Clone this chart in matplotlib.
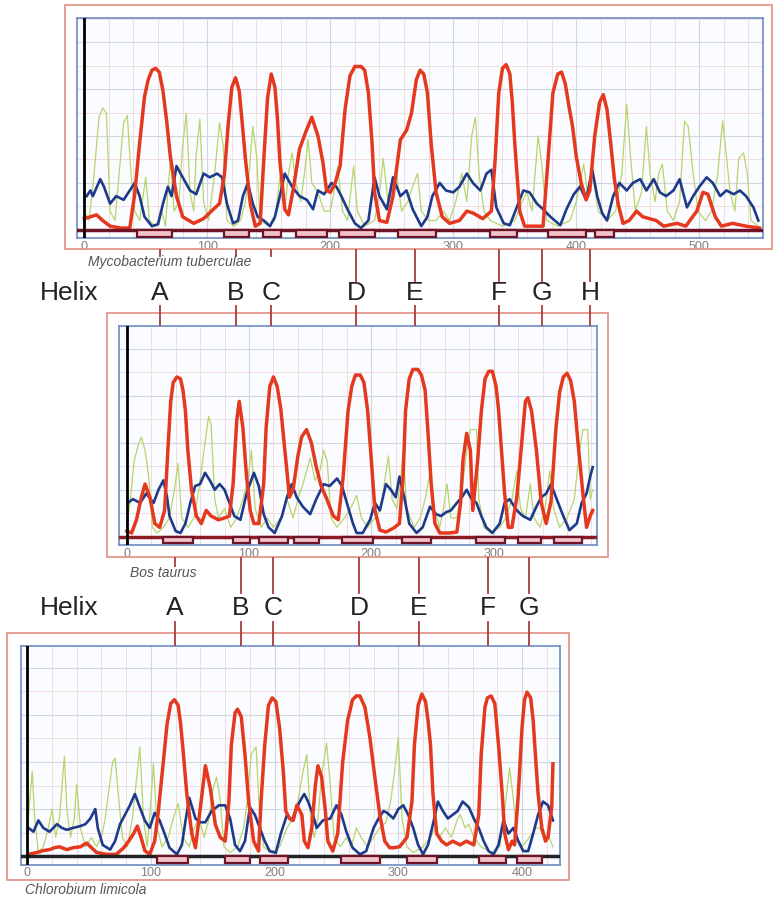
import numpy as np
import matplotlib
matplotlib.use("Agg")
import matplotlib.pyplot as plt
from matplotlib.patches import Rectangle
from matplotlib.ticker import MultipleLocator

plt.rcParams['font.family'] = ['Liberation Sans', 'DejaVu Sans']

# ---- data: (residue, value) ----
# Mycobacterium tuberculae
MT_RED = [(0,0.06),(5,0.07),(10,0.08),(15,0.05),(21,0.02),(30,0.01),(37,0.01),(41,0.19),(45,0.46),(49,0.71),
          (52,0.8),(55,0.85),(58,0.86),(61,0.84),(64,0.74),(67,0.58),(70,0.39),(75,0.18),(80,0.07),(89,0.035),
          (97,0.06),(105,0.11),(110,0.14),(114,0.3),(117,0.56),(120,0.76),(123,0.81),(126,0.74),(128,0.6),
          (131,0.38),(135,0.14),(139,0.02),(143,0.035),(146,0.38),(149,0.7),(152,0.83),(155,0.76),(157,0.6),
          (159,0.37),(163,0.11),(166,0.08),(170,0.22),(175,0.43),(180,0.52),(185,0.6),(190,0.5),(194,0.36),
          (197,0.21),(200,0.2),(204,0.25),(208,0.34),(212,0.64),(216,0.82),(220,0.87),(225,0.87),(228,0.85),
          (231,0.73),(234,0.46),(236,0.2),(240,0.05),(246,0.04),(251,0.18),(257,0.48),(262,0.53),(266,0.62),
          (270,0.8),(273,0.85),(276,0.83),(279,0.73),(282,0.46),(286,0.2),(291,0.07),(297,0.035),(305,0.05),
          (311,0.1),(316,0.09),(324,0.06),(331,0.1),(334,0.37),(337,0.73),(340,0.86),(343,0.88),(346,0.83),
          (348,0.68),(350,0.46),(354,0.1),(358,0.02),(370,0.02),(373,0.02),(377,0.37),(381,0.73),(385,0.83),
          (388,0.84),(391,0.78),(394,0.66),(397,0.55),(400,0.39),(404,0.25),(408,0.16),(411,0.21),(415,0.5),
          (419,0.68),(422,0.72),(425,0.64),(428,0.46),(431,0.27),(434,0.14),(438,0.035),(443,0.05),(449,0.1),
          (454,0.07),(465,0.05),(471,0.02),(482,0.035),(489,0.02),(498,0.1),(503,0.2),(507,0.19),(513,0.07),
          (518,0.02),(527,0.035),(538,0.02),(549,0.01)]
MT_BLUE = [(2,0.18),(5,0.21),(7,0.18),(13,0.27),(16,0.23),(21,0.14),(26,0.18),(32,0.16),(37,0.21),(41,0.25),
           (45,0.18),(49,0.07),(55,0.02),(60,0.03),(64,0.14),(68,0.23),(71,0.18),(75,0.34),(80,0.28),(86,0.21),
           (91,0.19),(97,0.3),(102,0.28),(108,0.3),(112,0.28),(116,0.14),(121,0.035),(125,0.05),(129,0.18),
           (133,0.25),(137,0.14),(141,0.07),(146,0.05),(151,0.02),(155,0.07),(159,0.18),(163,0.3),(169,0.23),
           (175,0.18),(181,0.16),(186,0.11),(190,0.21),(195,0.19),(201,0.25),(205,0.23),(209,0.18),(214,0.11),
           (220,0.035),(225,0.01),(231,0.05),(236,0.28),(240,0.18),(246,0.11),(251,0.28),(257,0.18),(262,0.21),
           (267,0.11),(274,0.02),(279,0.07),(283,0.18),(289,0.25),(294,0.21),(300,0.2),(305,0.23),(311,0.3),
           (316,0.25),(322,0.21),(327,0.3),(331,0.32),(335,0.12),(341,0.035),(346,0.025),(351,0.11),(357,0.21),
           (362,0.2),(368,0.14),(373,0.11),(379,0.07),(387,0.025),(392,0.11),(398,0.19),(403,0.23),(408,0.16),
           (413,0.32),(417,0.18),(421,0.09),(425,0.05),(430,0.18),(435,0.25),(441,0.21),(446,0.25),(452,0.27),
           (457,0.21),(463,0.27),(468,0.2),(473,0.18),(479,0.21),(484,0.27),(490,0.12),(495,0.18),(500,0.23),
           (506,0.28),(511,0.25),(517,0.18),(522,0.21),(528,0.19),(533,0.21),(538,0.18),(544,0.12),(548,0.05)]
MT_GREEN = [(0,0.1),(4,0.05),(8,0.3),(12,0.6),(15,0.65),(18,0.62),(21,0.1),(25,0.05),(29,0.35),(32,0.57),
            (35,0.61),(38,0.3),(41,0.1),(45,0.05),(50,0.28),(53,0.05),(58,0.02),(63,0.1),(66,0.02),(70,0.38),
            (73,0.1),(77,0.15),(80,0.45),(83,0.62),(86,0.2),(89,0.1),(91,0.4),(94,0.59),(97,0.15),(101,0.05),
            (106,0.3),(110,0.57),(113,0.45),(116,0.05),(122,0.02),(127,0.05),(131,0.15),(134,0.3),(137,0.55),
            (140,0.4),(143,0.05),(150,0.02),(155,0.05),(159,0.28),(163,0.1),(166,0.3),(169,0.41),(172,0.25),
            (176,0.15),(179,0.3),(182,0.48),(185,0.25),(190,0.2),(195,0.1),(200,0.1),(203,0.2),(206,0.34),
            (210,0.1),(214,0.05),(219,0.34),(222,0.1),(228,0.02),(236,0.05),(240,0.2),(243,0.38),(247,0.15),
            (250,0.2),(254,0.3),(258,0.1),(263,0.15),(268,0.25),(271,0.3),(274,0.1),(280,0.05),(286,0.05),
            (292,0.1),(297,0.05),(302,0.15),(307,0.3),(311,0.15),(315,0.5),(318,0.6),(321,0.3),(325,0.1),
            (330,0.05),(340,0.02),(350,0.05),(356,0.15),(360,0.2),(364,0.1),(369,0.5),(372,0.35),(376,0.05),
            (385,0.02),(395,0.05),(400,0.15),(406,0.35),(409,0.2),(413,0.3),(418,0.1),(425,0.05),(432,0.1),
            (437,0.3),(441,0.67),(444,0.4),(448,0.1),(453,0.2),(457,0.55),(460,0.3),(464,0.15),(467,0.3),
            (470,0.35),(474,0.1),(479,0.05),(484,0.15),(488,0.58),(491,0.55),(495,0.3),(499,0.1),(505,0.05),
            (510,0.1),(515,0.3),(519,0.58),(522,0.4),(525,0.2),(529,0.1),(532,0.38),(536,0.41),(539,0.3),
            (542,0.05),(548,0.02)]
MT_HELIX = [(43,71),(114,134),(145,160),(172,197),(207,236),(255,286),(330,352),(377,408),(415,431)]

# Bos taurus
BT_RED = [(0,0.03),(4,0.02),(8,0.09),(12,0.21),(15,0.28),(19,0.21),(23,0.07),(27,0.05),(31,0.14),(34,0.5),
          (36,0.72),(38,0.82),(41,0.85),(44,0.84),(46,0.78),(48,0.67),(50,0.46),(53,0.25),(57,0.11),(61,0.07),
          (65,0.14),(69,0.11),(75,0.09),(80,0.1),(84,0.11),(87,0.28),(90,0.62),(92,0.72),(95,0.58),(98,0.32),
          (101,0.14),(104,0.07),(108,0.07),(112,0.28),(114,0.58),(117,0.8),(120,0.85),(123,0.8),(126,0.68),
          (129,0.48),(131,0.35),(133,0.21),(136,0.25),(140,0.43),(143,0.53),(147,0.57),(151,0.5),(155,0.37),
          (159,0.27),(163,0.21),(169,0.11),(173,0.09),(177,0.32),(181,0.67),(184,0.8),(187,0.86),(191,0.86),
          (194,0.82),(197,0.67),(200,0.41),(203,0.14),(207,0.035),(212,0.025),(218,0.045),(223,0.07),(226,0.32),
          (228,0.67),(231,0.84),(234,0.89),(238,0.89),(241,0.86),(244,0.78),(246,0.59),(249,0.28),(252,0.07),
          (256,0.02),(264,0.02),(270,0.025),(273,0.18),(275,0.41),(278,0.55),(281,0.46),(283,0.14),(287,0.41),
          (290,0.67),(293,0.84),(296,0.88),(299,0.88),(302,0.8),(304,0.68),(306,0.5),(309,0.23),(312,0.05),
          (315,0.05),(319,0.21),(323,0.5),(326,0.72),(328,0.74),(331,0.67),(335,0.46),(339,0.18),(343,0.07),
          (347,0.19),(351,0.58),(354,0.77),(357,0.85),(360,0.87),(363,0.83),(366,0.72),(369,0.5),(373,0.23),
          (376,0.05),(379,0.11),(381,0.14)]
BT_BLUE = [(1,0.18),(5,0.2),(11,0.18),(16,0.23),(22,0.18),(26,0.25),(30,0.3),(33,0.21),(35,0.11),(40,0.03),
           (44,0.02),(48,0.07),(52,0.18),(56,0.27),(60,0.28),(64,0.34),(68,0.3),(72,0.25),(76,0.28),(80,0.25),
           (84,0.18),(88,0.11),(93,0.09),(98,0.23),(104,0.34),(108,0.27),(112,0.12),(116,0.05),(121,0.02),
           (127,0.11),(131,0.21),(135,0.28),(139,0.21),(144,0.16),(150,0.12),(155,0.2),(161,0.28),(166,0.27),
           (172,0.31),(176,0.27),(180,0.18),(185,0.07),(188,0.02),(193,0.02),(199,0.09),(203,0.18),(207,0.14),
           (212,0.28),(216,0.25),(220,0.21),(223,0.32),(227,0.21),(231,0.07),(237,0.02),(242,0.05),(248,0.16),
           (253,0.12),(257,0.11),(261,0.13),(265,0.14),(270,0.18),(274,0.21),(278,0.25),(282,0.2),(286,0.18),
           (290,0.11),(294,0.05),(299,0.02),(305,0.07),(309,0.18),(313,0.2),(319,0.14),(324,0.11),(330,0.09),
           (335,0.16),(339,0.21),(343,0.23),(347,0.28),(351,0.21),(357,0.11),(362,0.035),(368,0.07),(372,0.18),
           (376,0.23),(379,0.32),(381,0.37)]
BT_GREEN = [(0,0.05),(3,0.2),(6,0.4),(10,0.5),(12,0.53),(15,0.46),(18,0.32),(21,0.05),(25,0.02),(30,0.05),
            (35,0.1),(39,0.25),(42,0.39),(45,0.1),(50,0.05),(55,0.1),(59,0.25),(63,0.45),(67,0.64),(69,0.6),
            (72,0.2),(75,0.1),(80,0.15),(85,0.05),(90,0.1),(95,0.2),(99,0.3),(102,0.46),(105,0.15),(110,0.05),
            (115,0.1),(120,0.05),(126,0.1),(131,0.2),(136,0.1),(140,0.2),(145,0.3),(150,0.42),(154,0.3),
            (158,0.35),(161,0.46),(164,0.4),(167,0.1),(172,0.05),(178,0.1),(183,0.15),(188,0.22),(192,0.1),
            (197,0.05),(203,0.1),(208,0.15),(211,0.3),(214,0.43),(217,0.2),(221,0.15),(224,0.3),(226,0.46),
            (229,0.15),(235,0.05),(240,0.1),(244,0.2),(248,0.34),(251,0.15),(256,0.05),(259,0.15),(262,0.28),
            (265,0.1),(270,0.1),(275,0.3),(278,0.45),(281,0.57),(286,0.57),(288,0.2),(292,0.05),(298,0.02),
            (305,0.05),(310,0.1),(315,0.2),(319,0.35),(322,0.15),(326,0.1),(330,0.28),(333,0.1),(338,0.05),
            (342,0.15),(346,0.35),(349,0.15),(354,0.05),(360,0.1),(366,0.2),(370,0.45),(373,0.57),(377,0.57),
            (379,0.2),(381,0.25)]
BT_HELIX = [(30,54),(87,101),(108,132),(137,157),(176,201),(225,249),(286,309),(320,339),(349,372)]

# Chlorobium limicola
CL_RED = [(1,0.01),(8,0.02),(13,0.03),(18,0.035),(22,0.045),(26,0.05),(32,0.035),(37,0.045),(43,0.05),(48,0.07),
          (52,0.045),(56,0.02),(64,0.01),(72,0.01),(78,0.045),(82,0.08),(86,0.12),(89,0.16),(92,0.1),(95,0.03),
          (99,0.01),(103,0.08),(106,0.24),(110,0.5),(113,0.7),(116,0.81),(119,0.83),(122,0.8),(124,0.7),
          (126,0.56),(129,0.33),(133,0.12),(136,0.045),(140,0.26),(144,0.48),(148,0.36),(152,0.17),(156,0.1),
          (160,0.08),(163,0.29),(165,0.59),(168,0.76),(170,0.78),(173,0.74),(176,0.54),(179,0.29),(183,0.08),
          (187,0.027),(189,0.29),(192,0.59),(195,0.8),(198,0.84),(201,0.82),(204,0.68),(207,0.45),(209,0.24),
          (212,0.2),(215,0.19),(218,0.27),(222,0.22),(224,0.08),(227,0.045),(230,0.15),(233,0.38),(235,0.48),
          (238,0.42),(241,0.24),(243,0.08),(247,0.027),(251,0.12),(255,0.5),(259,0.72),(263,0.83),(266,0.85),
          (269,0.85),(273,0.79),(277,0.63),(281,0.42),(285,0.22),(289,0.08),(293,0.045),(296,0.045),(301,0.05),
          (307,0.1),(311,0.29),(313,0.59),(316,0.8),(319,0.86),(322,0.82),(324,0.72),(326,0.59),(328,0.33),
          (331,0.12),(335,0.08),(339,0.06),(344,0.08),(350,0.06),(355,0.08),(361,0.06),(365,0.22),(367,0.54),
          (370,0.79),(372,0.84),(375,0.85),(378,0.81),(381,0.59),(384,0.33),(386,0.12),(389,0.035),(392,0.08),
          (394,0.06),(397,0.33),(400,0.68),(402,0.83),(404,0.87),(407,0.84),(409,0.72),(411,0.52),(413,0.33),
          (416,0.15),(419,0.08),(421,0.1),(424,0.26),(425,0.49)]
CL_BLUE = [(1,0.15),(5,0.13),(9,0.19),(13,0.15),(18,0.13),(24,0.17),(28,0.15),(32,0.14),(37,0.15),(43,0.16),
           (47,0.17),(51,0.2),(55,0.25),(57,0.15),(61,0.06),(67,0.035),(71,0.08),(75,0.17),(79,0.22),(83,0.27),
           (87,0.33),(91,0.26),(95,0.19),(99,0.15),(103,0.23),(107,0.19),(111,0.12),(115,0.045),(121,0.01),
           (125,0.06),(128,0.19),(131,0.31),(136,0.2),(140,0.18),(144,0.18),(149,0.24),(155,0.27),(160,0.27),
           (164,0.2),(168,0.06),(172,0.027),(176,0.08),(180,0.26),(184,0.22),(188,0.15),(192,0.08),(196,0.027),
           (201,0.018),(205,0.12),(210,0.22),(214,0.19),(218,0.26),(222,0.31),(224,0.33),(227,0.29),(231,0.22),
           (234,0.15),(239,0.19),(245,0.2),(250,0.27),(254,0.22),(258,0.13),(263,0.045),(269,0.01),(274,0.027),
           (280,0.15),(284,0.2),(288,0.24),(291,0.23),(296,0.2),(300,0.25),(304,0.27),(308,0.22),(312,0.15),
           (316,0.06),(320,0.01),(324,0.06),(328,0.17),(332,0.29),(336,0.24),(340,0.2),(344,0.22),(348,0.24),
           (352,0.29),(357,0.26),(361,0.2),(365,0.15),(369,0.08),(373,0.027),(377,0.01),(381,0.06),(385,0.19),
           (389,0.12),(393,0.15),(397,0.08),(401,0.027),(405,0.027),(409,0.12),(413,0.22),(417,0.29),(421,0.27),
           (425,0.19)]
CL_GREEN = [(0,0.1),(2,0.3),(4,0.45),(6,0.2),(9,0.02),(13,0.05),(17,0.15),(20,0.25),(23,0.1),(26,0.2),(30,0.53),
            (32,0.25),(35,0.1),(38,0.2),(40,0.38),(43,0.15),(47,0.05),(52,0.1),(56,0.05),(60,0.1),(63,0.2),
            (66,0.35),(69,0.5),(71,0.52),(74,0.3),(77,0.1),(81,0.05),(85,0.2),(89,0.45),(91,0.58),(94,0.2),
            (97,0.05),(100,0.3),(102,0.49),(105,0.15),(109,0.05),(114,0.1),(118,0.2),(122,0.28),(126,0.1),
            (131,0.05),(135,0.15),(139,0.2),(143,0.1),(147,0.2),(150,0.35),(153,0.42),(156,0.3),(159,0.05),
            (164,0.02),(170,0.05),(175,0.15),(178,0.3),(181,0.54),(185,0.58),(188,0.2),(191,0.05),(197,0.02),
            (204,0.05),(210,0.15),(215,0.2),(219,0.3),(223,0.45),(226,0.54),(229,0.2),(232,0.1),(235,0.2),
            (238,0.43),(242,0.6),(245,0.38),(248,0.1),(253,0.05),(258,0.1),(262,0.05),(266,0.15),(270,0.1),
            (275,0.05),(280,0.1),(285,0.15),(290,0.18),(294,0.3),(297,0.45),(300,0.63),(303,0.2),(307,0.05),
            (312,0.02),(320,0.05),(326,0.1),(330,0.15),(333,0.1),(338,0.15),(343,0.1),(348,0.2),(350,0.22),
            (354,0.15),(357,0.17),(361,0.1),(367,0.05),(375,0.02),(382,0.05),(386,0.25),(390,0.47),(393,0.3),
            (396,0.1),(400,0.05),(406,0.1),(411,0.15),(414,0.15),(418,0.1),(422,0.1),(425,0.05)]
CL_HELIX = [(105,130),(160,180),(188,211),(254,285),(307,331),(365,387),(396,416)]

SPECIES = ["Mycobacterium tuberculae", "Bos taurus", "Chlorobium limicola"]
HELIX_ROW1 = ["A", "B", "C", "D", "E", "F", "G", "H"]
HELIX_ROW2 = ["A", "B", "C", "D", "E", "F", "G"]

W, H = 774, 899
RED = '#e4381f'
BLUE = '#1e3a8a'
GREEN = '#b8d46c'
FRAME = '#e2968c'
LINK = '#a83a3a'


def fx(x):
    return x / W


def fy(y):
    return 1 - y / H


def panel(fig, box, xlim, ylim, red, blue, green, helix, base_color):
    # box = (left, top, right, bottom) in pixels
    l, t, r, b = box
    ax = fig.add_axes([fx(l), fy(b), (r - l) / W, (b - t) / H])
    ax.set_xlim(*xlim)
    ax.set_ylim(*ylim)
    ax.set_facecolor('#fbfcff')
    ax.xaxis.set_major_locator(MultipleLocator(100))
    ax.xaxis.set_minor_locator(MultipleLocator(20))
    ax.yaxis.set_major_locator(MultipleLocator(0.25))
    ax.yaxis.set_minor_locator(MultipleLocator(0.125))
    ax.grid(which='major', color='#d0d7e3', lw=0.8)
    ax.grid(which='minor', color='#f0d8d8', lw=0.6)
    ax.set_axisbelow(True)
    ax.tick_params(which='both', length=0, pad=2, labelsize=9, labelcolor='#808080')
    ax.set_yticklabels([])
    for s in ax.spines.values():
        s.set_color('#6d8cc0')
        s.set_linewidth(1.2)

    g = np.array(green)
    ax.plot(g[:, 0], g[:, 1], color=GREEN, lw=0.9, zorder=3)
    bl = np.array(blue)
    ax.plot(bl[:, 0], bl[:, 1], color=BLUE, lw=1.9, zorder=4, solid_joinstyle='round')
    rd = np.array(red)
    ax.plot(rd[:, 0], rd[:, 1], color=RED, lw=2.5, zorder=5, solid_joinstyle='round')

    ax.axhline(0, color=base_color, lw=2.5, zorder=6)
    ax.axvline(0, color='black', lw=2, zorder=7)
    for x0, x1 in helix:
        ax.add_patch(Rectangle((x0, -0.036), x1 - x0, 0.036, facecolor='#f0c2cb',
                               edgecolor='#6e1424', lw=1.6, zorder=6))
    return ax


fig = plt.figure(figsize=(W / 100, H / 100), dpi=100)

# outer frames
for l, t, r, b in [(65, 5, 772, 249), (107, 313, 608, 557), (7, 633, 569, 880)]:
    fig.add_artist(Rectangle((fx(l), fy(b)), (r - l) / W, (b - t) / H, transform=fig.transFigure,
                             fill=False, edgecolor=FRAME, lw=1.3))

panel(fig, (76.5, 18, 763, 238), (-6.3, 551.8), (-0.043, 1.128), MT_RED, MT_BLUE, MT_GREEN, MT_HELIX, '#6e1424')
panel(fig, (119.3, 326, 596.7, 545), (-6.05, 384.3), (-0.044, 1.121), BT_RED, BT_BLUE, BT_GREEN, BT_HELIX, '#8e1a22')
panel(fig, (20.7, 646, 560, 864.7), (-5.3, 430.7), (-0.045, 1.115), CL_RED, CL_BLUE, CL_GREEN, CL_HELIX, '#222222')

# species labels
for name, (x, y) in zip(SPECIES, [(88, 262), (130, 573), (25, 890)]):
    fig.text(fx(x), fy(y), name, style='italic', fontsize=10, color='#555555', va='center', ha='left')

# helix letter rows
row1_x = [160, 236, 271, 356, 415, 499, 542, 590]
row2_x = [175, 241, 273, 359, 419, 488, 529]
fig.text(fx(40), fy(293), "Helix", fontsize=19, color='#222222', va='center', ha='left')
fig.text(fx(40), fy(608), "Helix", fontsize=19, color='#222222', va='center', ha='left')
for lab, x in zip(HELIX_ROW1, row1_x):
    fig.text(fx(x), fy(293), lab, fontsize=19, color='#222222', va='center', ha='center')
for lab, x in zip(HELIX_ROW2, row2_x):
    fig.text(fx(x), fy(608), lab, fontsize=19, color='#222222', va='center', ha='center')


def link(x, y0, y1):
    fig.add_artist(plt.Line2D([fx(x), fx(x)], [fy(y0), fy(y1)], transform=fig.transFigure,
                              color=LINK, lw=1.3))


for i, x in enumerate(row1_x):
    link(x, 250, 256 if i < 3 else 281)
    link(x, 306, 325)
for i, x in enumerate(row2_x):
    link(x, 558, 566 if i == 0 else 593)
    link(x, 622, 645)

fig.savefig("out.png", dpi=100)
